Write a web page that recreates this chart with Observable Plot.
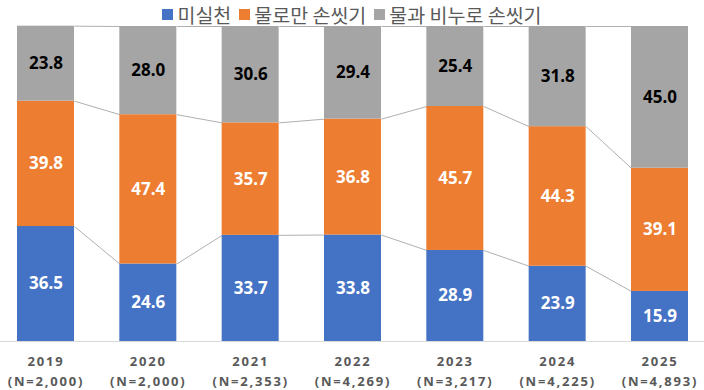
<!DOCTYPE html>
<html><head><meta charset="utf-8">
<script src="https://cdn.jsdelivr.net/npm/d3@7"></script>
<script src="https://cdn.jsdelivr.net/npm/@observablehq/plot@0.6"></script>
<style>
body{margin:0;background:#fff;}
#wrap{position:relative;width:704px;height:390px;}
#legend{position:absolute;top:0;left:0;width:704px;display:flex;justify-content:center;align-items:center;font-family:"Noto Sans CJK KR";font-size:19.5px;color:#595959;line-height:normal;z-index:2;}
.sw{display:inline-block;width:11px;height:11px;margin-right:4px;}
.item{display:flex;align-items:center;margin:0 4px;}
svg [aria-label="x-axis tick label"] text{letter-spacing:1.8px;font-weight:bold;}
</style></head>
<body>
<div id="wrap"><div id="legend"></div></div>
<script>
const years = ["2019","2020","2021","2022","2023","2024","2025"];
const ns = ["(N=2,000)","(N=2,000)","(N=2,353)","(N=4,269)","(N=3,217)","(N=4,225)","(N=4,893)"];
const seriesNames = ["미실천","물로만 손씻기","물과 비누로 손씻기"];
const seriesColors = ["#4472C4","#ED7D31","#A5A5A5"];
const noPractice = [36.5,24.6,33.7,33.8,28.9,23.9,15.9];
const waterOnly  = [39.8,47.4,35.7,36.8,45.7,44.3,39.1];
const waterSoap  = [23.8,28.0,30.6,29.4,25.4,31.8,45.0];

const seriesValues = [noPractice, waterOnly, waterSoap];
const W = 704, H = 390;
const step = 102.33;               // px between bar centers
const hw = 28.5 / step;            // half bar width in index units

const rows = [];
years.forEach((y, i) => {
  let c = 0;
  seriesValues.forEach((vals, k) => {
    rows.push({i, k, series: seriesNames[k], value: vals[i], y1: c, y2: c + vals[i]});
    c += vals[i];
  });
});
const links = [];
for (let k = 0; k < 3; k++) {
  for (let i = 0; i < years.length - 1; i++) {
    const a = rows.find(r => r.i === i && r.k === k);
    const b = rows.find(r => r.i === i + 1 && r.k === k);
    links.push({x1: i + hw, x2: i + 1 - hw, y1: a.y2, y2: b.y2});
  }
}

const chart = Plot.plot({
  width: W, height: H,
  marginLeft: 0, marginRight: 0, marginTop: 26, marginBottom: 49,
  style: {fontFamily: "'Noto Sans', sans-serif", background: "white"},
  x: {type: "linear", domain: [-45.5 / step, (W - 45.5) / step], axis: null},
  y: {domain: [0, 100], axis: null},
  color: {domain: seriesNames, range: seriesColors},
  marks: [
    Plot.ruleY([0], {stroke: "#d9d9d9", strokeWidth: 1}),
    Plot.link(links, {x1: "x1", x2: "x2", y1: "y1", y2: "y2", stroke: "#b0b0b0", strokeWidth: 1}),
    Plot.rect(rows, {x1: d => d.i - hw, x2: d => d.i + hw, y1: "y1", y2: "y2", fill: "series"}),
    Plot.text(rows.filter(d => d.k < 2), {x: "i", y: d => (d.y1 + d.y2) / 2, text: d => d.value.toFixed(1), fill: "white", fontSize: 17, fontWeight: "bold"}),
    Plot.text(rows.filter(d => d.k === 2), {x: "i", y: d => (d.y1 + d.y2) / 2, text: d => d.value.toFixed(1), fill: "black", fontSize: 17, fontWeight: "bold"}),
    Plot.axisX({ticks: d3.range(years.length), tickFormat: i => years[i] + "\n" + ns[i], tickSize: 0, tickPadding: 10, fontSize: 13, fill: "#595959", lineHeight: 1.55})
  ]
});
document.getElementById("wrap").appendChild(chart);

const legend = document.getElementById("legend");
seriesNames.forEach((n, k) => {
  const it = document.createElement("span");
  it.className = "item";
  it.innerHTML = `<span class="sw" style="background:${seriesColors[k]}"></span><span>${n}</span>`;
  legend.appendChild(it);
});
</script>
</body></html>
